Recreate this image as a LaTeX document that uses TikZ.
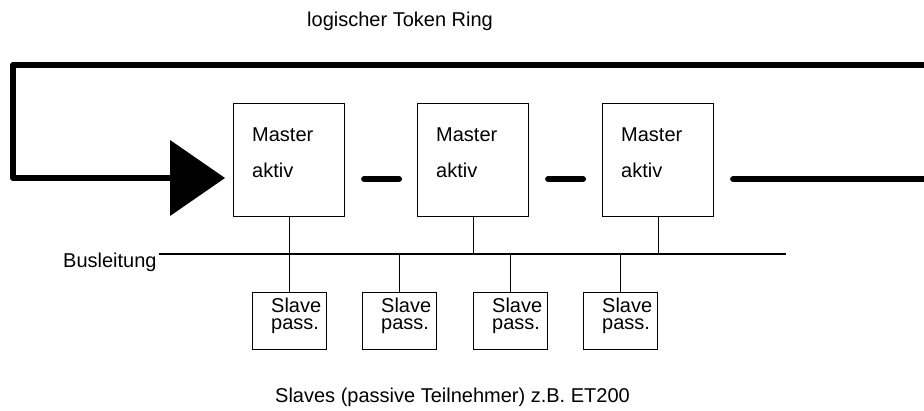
\documentclass[tikz,border=0pt]{standalone}
\usepackage{fontspec}
\setmainfont{Liberation Sans}
\usetikzlibrary{calc}
\begin{document}
\begin{tikzpicture}[x=1pt,y=-1pt,
  every node/.style={font=\fontsize{20}{17}\selectfont, inner sep=0pt},
  master/.style={draw, line width=1.1pt, minimum width=111pt, minimum height=113pt, anchor=north west},
  slave/.style={draw, line width=1.1pt, minimum width=74pt, minimum height=57pt, anchor=north west},
  ring/.style={line width=6pt, line join=round},
  token/.style={line width=6pt, line cap=round},
  bus/.style={line width=1.1pt},
  lbl/.style={anchor=base west},
  slavetext/.style={anchor=north west, align=left}]
\useasboundingbox (0,0) rectangle (924,411);

% active masters
\node[master] (m1) at (233,103) {};
\node[master] (m2) at (417,103) {};
\node[master] (m3) at (602,103) {};
\foreach \m in {m1,m2,m3}{
  \node[lbl] (\m-a) at ([xshift=19pt,yshift=-39pt]\m.north west) {Master};
  \node[lbl] (\m-b) at ([xshift=19pt,yshift=-75pt]\m.north west) {aktiv};
}

% passive slaves (two tightly spaced lines each)
\node[slave] (s1) at (252,292) {};
\node[slave] (s2) at (362,292) {};
\node[slave] (s3) at (473,292) {};
\node[slave] (s4) at (583,292) {};
\foreach \s in {s1,s2,s3,s4}{
  \node[slavetext] (\s-t) at ([xshift=19pt,yshift=-5.4pt]\s.north west) {Slave\\pass.};
}

% bus line
\node[lbl] (buslbl) at (63,268) {Busleitung};
\coordinate (busL) at (159,254);
\coordinate (busR) at (786,254);
\draw[bus] (busL) -- (busR);
\foreach \m in {m1,m2,m3} \draw[bus] (\m.south) -- (\m.south |- busL);
\foreach \s in {s1,s2,s3,s4} \draw[bus] (\s.north) -- (\s.north |- busL);

% logical token ring
\coordinate (lev) at (0,179);
\coordinate (rTR) at (930,65);
\coordinate (rTL) at (13,65);
\coordinate (rBL) at (13,178);
\coordinate (abase) at (172,178);
\coordinate (tip) at (225,178);
\coordinate (rR) at (930,179);
\draw[ring] (rTR) -- (rTL) -- (rBL) -- (abase);
\fill (170,140) -- (tip) -- (170,216) -- cycle;
\draw[token, shorten <=19pt, shorten >=18pt] (m1.east |- lev) -- (m2.west |- lev);
\draw[token, shorten <=19pt, shorten >=19pt] (m2.east |- lev) -- (m3.west |- lev);
\draw[token, shorten <=19pt] (m3.east |- lev) -- (rR);

% captions
\node[lbl] (title) at (307,27) {logischer Token Ring};
\node[lbl] (foot) at (275,403) {Slaves (passive Teilnehmer) z.B. ET200};
\end{tikzpicture}
\end{document}
